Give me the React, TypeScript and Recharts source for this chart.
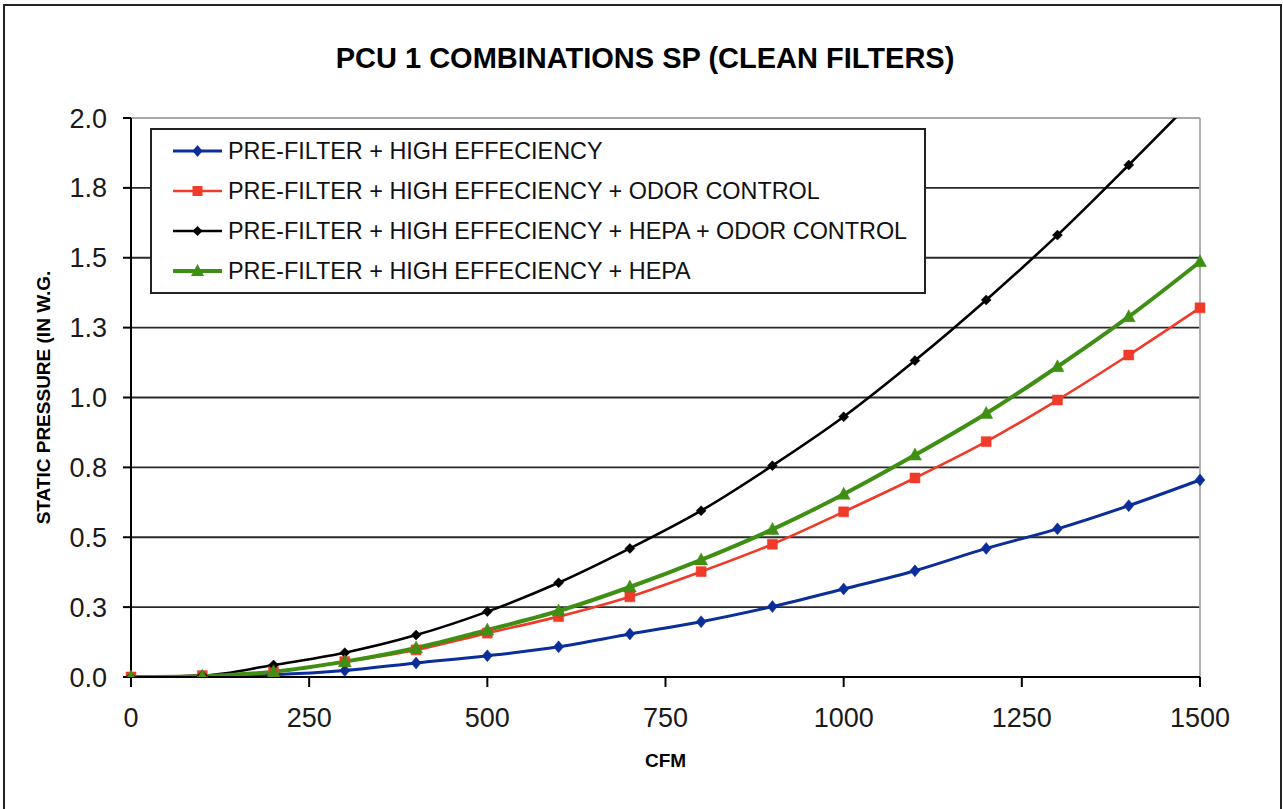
import React from "react";
import {
  LineChart,
  Line,
  XAxis,
  YAxis,
  CartesianGrid,
  ReferenceLine,
} from "recharts";

const cfm = [0, 100, 200, 300, 400, 500, 600, 700, 800, 900, 1000, 1100, 1200, 1300, 1400, 1500];
const preHigh = [0, 0.003, 0.008, 0.023, 0.05, 0.076, 0.108, 0.154, 0.198, 0.252, 0.315, 0.38, 0.46, 0.53, 0.613, 0.705];
const preHighOdor = [0, 0.005, 0.019, 0.055, 0.097, 0.157, 0.216, 0.287, 0.377, 0.475, 0.591, 0.712, 0.842, 0.991, 1.152, 1.321];
const preHighHepaOdor = [0, 0.005, 0.043, 0.087, 0.15, 0.234, 0.337, 0.46, 0.595, 0.756, 0.931, 1.132, 1.349, 1.581, 1.832, 2.09];
const preHighHepa = [0, 0.003, 0.019, 0.055, 0.104, 0.168, 0.236, 0.322, 0.419, 0.528, 0.654, 0.794, 0.943, 1.11, 1.289, 1.486];

const xTicks = [0, 250, 500, 750, 1000, 1250, 1500];
const yTicks = [0, 0.25, 0.5, 0.75, 1, 1.25, 1.5, 1.75, 2];
const yTickLabels = ["0.0", "0.3", "0.5", "0.8", "1.0", "1.3", "1.5", "1.8", "2.0"];

const data = cfm.map((c, i) => ({
  cfm: c,
  a: preHigh[i],
  b: preHighOdor[i],
  c: preHighHepaOdor[i],
  d: preHighHepa[i],
}));

const FONT = "'Liberation Sans', Arial, sans-serif";

type Shape = "diamond" | "square" | "smallDiamond" | "triangle";

const markerPath = (shape: Shape, x: number, y: number) => {
  if (shape === "diamond") return `M${x},${y - 6}L${x + 5},${y}L${x},${y + 6}L${x - 5},${y}Z`;
  if (shape === "smallDiamond") return `M${x},${y - 5}L${x + 5},${y}L${x},${y + 5}L${x - 5},${y}Z`;
  if (shape === "square") return `M${x - 5},${y - 5}h10v10h-10Z`;
  return `M${x},${y - 7}L${x + 6.5},${y + 5}L${x - 6.5},${y + 5}Z`;
};

const series = [
  { key: "a", name: "PRE-FILTER + HIGH EFFECIENCY", color: "#0b2e9b", width: 3, shape: "diamond" as Shape },
  { key: "b", name: "PRE-FILTER + HIGH EFFECIENCY + ODOR CONTROL", color: "#f03a2a", width: 2.6, shape: "square" as Shape },
  { key: "c", name: "PRE-FILTER + HIGH EFFECIENCY + HEPA + ODOR CONTROL", color: "#000000", width: 2.6, shape: "smallDiamond" as Shape },
  { key: "d", name: "PRE-FILTER + HIGH EFFECIENCY + HEPA", color: "#3f8f14", width: 4, shape: "triangle" as Shape },
];

const makeDot = (shape: Shape, color: string) => (props: any) => {
  const { cx, cy, index } = props;
  if (cx == null || cy == null) return <g key={`d${index}`} />;
  return <path key={`d${index}`} d={markerPath(shape, cx, cy)} fill={color} stroke={color} strokeWidth={0.5} />;
};

const App: React.FC = () => {
  return (
    <div style={{ position: "absolute", left: 0, top: 0, width: 1283, height: 809, background: "#fff", overflow: "hidden", fontFamily: FONT }}>
      <div style={{ position: "absolute", left: 3, top: 4, width: 1279, height: 830, border: "2px solid #222", boxSizing: "border-box" }} />
      <div style={{ position: "absolute", left: 0, top: 44, width: 1290, textAlign: "center", fontSize: 29, lineHeight: "28px", fontWeight: "bold", color: "#000" }}>
        PCU 1 COMBINATIONS SP (CLEAN FILTERS)
      </div>
      <div style={{ position: "absolute", left: 0, top: 0 }}>
        <LineChart width={1283} height={809} data={data} margin={{ top: 118, right: 83, left: 0, bottom: 0 }}>
          <CartesianGrid vertical={false} stroke="#2a2a2a" strokeWidth={1.8} horizontalValues={yTicks} />
          <ReferenceLine y={2} stroke="#a8a8a8" strokeWidth={1.8} />
          <ReferenceLine x={1500} stroke="#a8a8a8" strokeWidth={1.8} />
          <XAxis
            type="number"
            dataKey="cfm"
            domain={[0, 1500]}
            ticks={xTicks}
            height={132}
            axisLine={{ stroke: "#000", strokeWidth: 2 }}
            tickLine={{ stroke: "#000", strokeWidth: 2 }}
            tickSize={10}
            tickMargin={21}
            tick={{ fill: "#1a1a1a", fontSize: 27, fontFamily: FONT }}
            label={{ value: "CFM", position: "insideBottom", offset: 42, style: { fontSize: 19, fontWeight: "bold", fill: "#000", fontFamily: FONT } }}
          />
          <YAxis
            type="number"
            domain={[0, 2]}
            ticks={yTicks}
            allowDataOverflow
            width={131}
            axisLine={{ stroke: "#000", strokeWidth: 2 }}
            tickLine={{ stroke: "#000", strokeWidth: 2 }}
            tickSize={8}
            tickMargin={16}
            tickFormatter={(v: number) => yTickLabels[yTicks.indexOf(v)] ?? String(v)}
            tick={{ fill: "#1a1a1a", fontSize: 27, fontFamily: FONT }}
            label={{ value: "STATIC PRESSURE (IN W.G.", angle: -90, position: "insideLeft", offset: 43, style: { textAnchor: "middle", fontSize: 19, fontWeight: "bold", fill: "#000", fontFamily: FONT } }}
          />
          {series.map((s) => (
            <Line
              key={s.key}
              type="monotone"
              dataKey={s.key}
              name={s.name}
              stroke={s.color}
              strokeWidth={s.width}
              dot={makeDot(s.shape, s.color)}
              activeDot={false}
              isAnimationActive={false}
            />
          ))}
        </LineChart>
      </div>
      <div style={{ position: "absolute", left: 150, top: 128, width: 776, height: 166, border: "2px solid #222", boxSizing: "border-box", background: "#fff" }}>
        {series.map((s, i) => (
          <div key={s.key} style={{ position: "absolute", left: 0, top: 21 + i * 40 - 20, height: 40, width: 770 }}>
            <svg width={54} height={40} style={{ position: "absolute", left: 19, top: 0 }}>
              <line x1={2} y1={20} x2={51} y2={20} stroke={s.color} strokeWidth={s.width} />
              <path d={markerPath(s.shape, 26.5, 20)} fill={s.color} />
            </svg>
            <div style={{ position: "absolute", left: 76, top: 0, lineHeight: "40px", fontSize: 23.4, color: "#111", whiteSpace: "nowrap" }}>{s.name}</div>
          </div>
        ))}
      </div>
    </div>
  );
};

export default App;
